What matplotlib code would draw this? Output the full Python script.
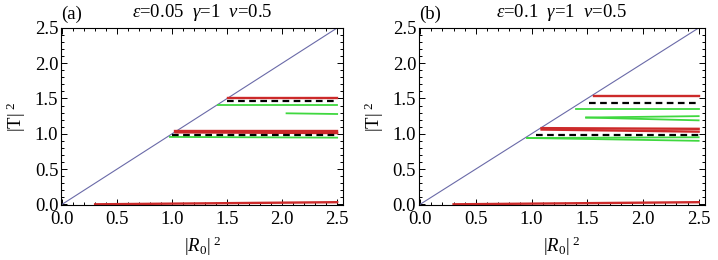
import matplotlib
matplotlib.use("Agg")
import matplotlib.pyplot as plt
from matplotlib.ticker import MultipleLocator

plt.rcParams['font.family'] = ['Liberation Serif', 'DejaVu Serif']
plt.rcParams['mathtext.fontset'] = 'custom'
plt.rcParams['mathtext.rm'] = 'Liberation Serif'
plt.rcParams['mathtext.it'] = 'Liberation Serif:italic'

# Data
diag_x = [0.0, 2.5]
diag_y = [0.0, 2.5]

titles = [r"$\varepsilon$=0.05  $\gamma$=1  $\nu$=0.5", r"$\varepsilon$=0.1  $\gamma$=1  $\nu$=0.5"]
panel_labels = ["(a)", "(b)"]

# panel (a) segments: x_start, x_end, y_start, y_end
a_red_x0 = [1.51, 1.03, 1.03, 0.30]
a_red_x1 = [2.50, 2.50, 2.50, 2.50]
a_red_y0 = [1.50, 1.04, 1.02, 0.00]
a_red_y1 = [1.50, 1.04, 1.01, 0.03]
a_black_x0 = [1.50, 1.00]
a_black_y = [1.46, 0.985]
a_green_x0 = [1.42, 2.04, 0.98]
a_green_x1 = [2.50, 2.50, 2.50]
a_green_y0 = [1.41, 1.29, 0.955]
a_green_y1 = [1.41, 1.28, 0.945]

# panel (b)
b_red_x0 = [1.56, 1.09, 1.09, 0.30]
b_red_x1 = [2.50, 2.50, 2.50, 2.50]
b_red_y0 = [1.53, 1.08, 1.06, 0.00]
b_red_y1 = [1.53, 1.07, 1.03, 0.03]
b_black_x0 = [1.52, 1.04]
b_black_y = [1.44, 0.985]
b_green_x0 = [1.40, 1.49, 1.49, 0.96, 0.96]
b_green_x1 = [2.50, 2.50, 2.50, 2.50, 2.50]
b_green_y0 = [1.35, 1.23, 1.23, 0.94, 0.94]
b_green_y1 = [1.35, 1.25, 1.19, 0.95, 0.90]

panels = [
    (a_red_x0, a_red_x1, a_red_y0, a_red_y1, a_black_x0, a_black_y,
     a_green_x0, a_green_x1, a_green_y0, a_green_y1),
    (b_red_x0, b_red_x1, b_red_y0, b_red_y1, b_black_x0, b_black_y,
     b_green_x0, b_green_x1, b_green_y0, b_green_y1),
]

fig = plt.figure(figsize=(7.18, 2.6), dpi=100)
rects = [[0.085, 0.2115, 0.393, 0.681], [0.5836, 0.2115, 0.398, 0.681]]

for i, (rect, data) in enumerate(zip(rects, panels)):
    rx0, rx1, ry0, ry1, kx0, ky, gx0, gx1, gy0, gy1 = data
    ax = fig.add_axes(rect)
    ax.plot(diag_x, diag_y, color='#6a6aa8', lw=0.8)
    for x0, x1, y0, y1 in zip(gx0, gx1, gy0, gy1):
        ax.plot([x0, x1], [y0, y1], color='#3fd83f', lw=1.3)
    for x0, x1, y0, y1 in zip(rx0, rx1, ry0, ry1):
        ax.plot([x0, x1], [y0, y1], color='#cc2a2a', lw=1.7)
    for x0, y in zip(kx0, ky):
        ax.plot([x0, 2.5], [y, y], color='black', lw=1.6, ls=(0, (3, 2)))
    ax.set_xlim(-0.01, 2.555)
    ax.set_ylim(-0.01, 2.5)
    ax.xaxis.set_major_locator(MultipleLocator(0.5))
    ax.yaxis.set_major_locator(MultipleLocator(0.5))
    ax.xaxis.set_minor_locator(MultipleLocator(0.1))
    ax.yaxis.set_minor_locator(MultipleLocator(0.1))
    ax.xaxis.set_major_formatter(matplotlib.ticker.FormatStrFormatter('%.1f'))
    ax.yaxis.set_major_formatter(matplotlib.ticker.FormatStrFormatter('%.1f'))
    ax.tick_params(which='both', direction='in', top=True, right=True,
                   labelsize=13.5, width=0.7)
    ax.tick_params(axis='x', pad=4)
    ax.tick_params(axis='y', pad=2)
    ax.tick_params(which='major', length=4)
    ax.tick_params(which='minor', length=2)
    for s in ax.spines.values():
        s.set_linewidth(0.8)
    ax.set_xlabel(r"$|R_0|^{\ 2}$", fontsize=13.5, labelpad=5)
    ax.set_ylabel(r"$|\mathrm{T}|^{\ 2}$", fontsize=13.5, labelpad=5)
    ax.text(0.0, 1.03, panel_labels[i], transform=ax.transAxes, fontsize=13.5,
            ha='left', va='bottom')
    ax.text(0.5, 1.03, titles[i], transform=ax.transAxes, fontsize=13.5,
            ha='center', va='bottom')

fig.savefig("out.png", dpi=100)
